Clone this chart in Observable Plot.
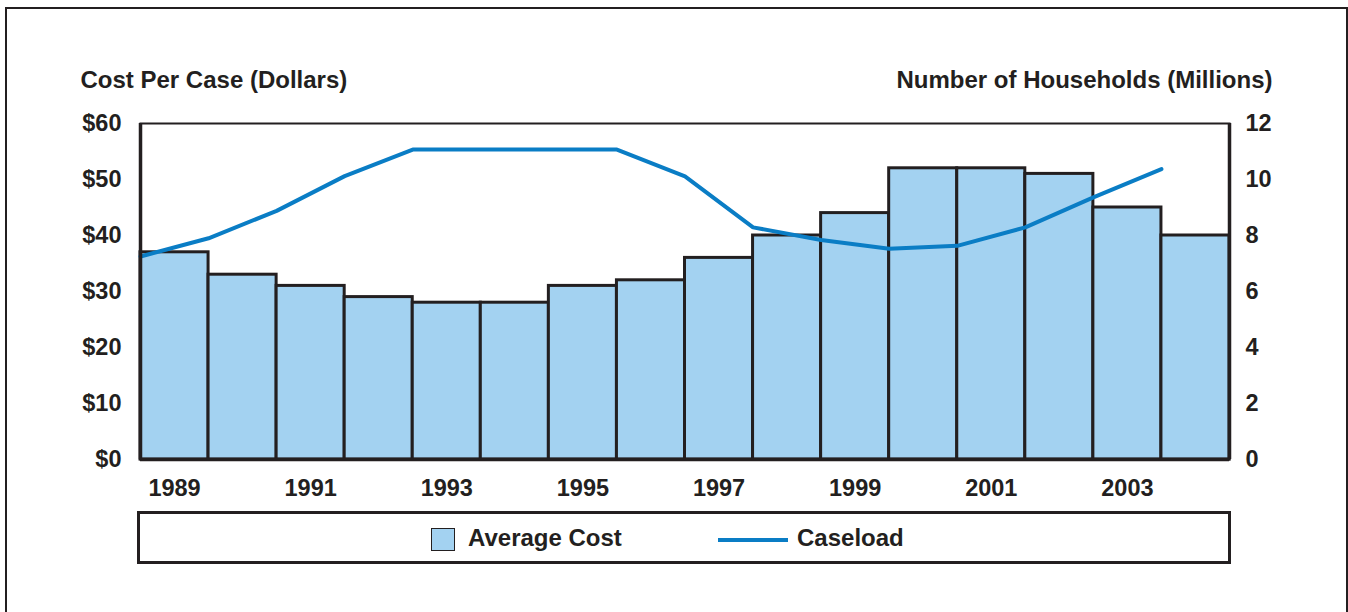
<!DOCTYPE html>
<html>
<head>
<meta charset="utf-8">
<script src="https://cdn.jsdelivr.net/npm/d3@7"></script>
<script src="https://cdn.jsdelivr.net/npm/@observablehq/plot@0.6"></script>
<style>
  html, body { margin: 0; padding: 0; background: #fff; }
  body { width: 1348px; height: 612px; position: relative; overflow: hidden;
         font-family: "Liberation Sans", Arial, sans-serif; font-weight: bold; color: #231f20; }
  #frame { position: absolute; left: 5px; top: 7px; width: 1343px; height: 640px;
           border: 2.5px solid #231f20; box-sizing: border-box; }
  #chart { position: absolute; left: 0; top: 0; }
  #legend { position: absolute; left: 137px; top: 511px; width: 1094px; height: 53px;
            border: 3px solid #231f20; box-sizing: border-box; background: #fff; }
  .sw { position: absolute; left: 291px; top: 14px; width: 24px; height: 23px;
        background: #a3d2f1; border: 1.5px solid #231f20; box-sizing: border-box; }
  .ln { position: absolute; left: 578px; top: 24px; width: 70px; height: 4px; background: #0a7dc5; }
  .lt { position: absolute; top: 11px; font-size: 24px; line-height: 26px; }
</style>
</head>
<body>
<div id="frame"></div>
<div id="chart"></div>
<div id="legend">
  <div class="sw"></div><div class="lt" style="left:328px">Average Cost</div>
  <div class="ln"></div><div class="lt" style="left:657px">Caseload</div>
</div>
<script>
const years = [1989,1990,1991,1992,1993,1994,1995,1996,1997,1998,1999,2000,2001,2002,2003,2004];
const averageCost = [37,33,31,29,28,28,31,32,36,40,44,52,52,51,45,40];
const caseload = [7.25,7.9,8.88,10.12,11.07,11.07,11.07,11.07,10.11,8.29,7.84,7.53,7.63,8.29,9.36,10.37];
const yearLabels = [1989,1991,1993,1995,1997,1999,2001,2003];
const costTicks = [0,10,20,30,40,50,60];
const caseTicks = [0,2,4,6,8,10,12];
const leftTitle = "Cost Per Case (Dollars)";
const rightTitle = "Number of Households (Millions)";

const ratio = 60 / 12; // caseload axis 0–12 maps onto cost axis 0–60
const data = years.map((y, i) => ({year: y, cost: averageCost[i], caseload: caseload[i]}));
const ink = "#231f20";

const chart = Plot.plot({
  width: 1348,
  height: 612,
  marginLeft: 140,
  marginRight: 119,
  marginTop: 123,
  marginBottom: 153,
  style: {fontFamily: "'Liberation Sans', Arial, sans-serif", fontSize: "23.5px", fontWeight: "bold", color: ink, background: "transparent"},
  x: {domain: [1989, 2005], axis: null},
  y: {domain: [0, 60], axis: null},
  marks: [
    Plot.rectY(data, {x1: "year", x2: d => d.year + 1, y: "cost", fill: "#a3d2f1", stroke: ink, strokeWidth: 3}),
    Plot.line(data, {x: "year", y: d => d.caseload * ratio, stroke: "#0a7dc5", strokeWidth: 4, strokeLinejoin: "miter"}),
    Plot.frame({stroke: ink, strokeWidth: 2}),
    Plot.ruleX([1989], {stroke: ink, strokeWidth: 3.5}),
    Plot.ruleX([2005], {stroke: ink, strokeWidth: 3.5}),
    Plot.ruleY([0], {stroke: ink, strokeWidth: 3.5}),
    Plot.axisY({anchor: "left", ticks: costTicks, tickSize: 0, tickPadding: 19, tickFormat: d => "$" + d, label: null, fill: ink}),
    Plot.axisY({anchor: "right", ticks: caseTicks.map(v => v * ratio), tickSize: 0, tickPadding: 16, tickFormat: d => String(d / ratio), label: null, textAnchor: "start", fill: ink}),
    Plot.axisX({anchor: "bottom", ticks: yearLabels.map(y => y + 0.5), tickSize: 0, tickPadding: 20, tickFormat: d => String(d - 0.5), label: null, fill: ink}),
    Plot.text([leftTitle], {frameAnchor: "top-left", dx: -60, dy: -36, textAnchor: "start", lineAnchor: "bottom", fill: ink, fontSize: 24}),
    Plot.text([rightTitle], {frameAnchor: "top-right", dx: 43, dy: -36, textAnchor: "end", lineAnchor: "bottom", fill: ink, fontSize: 24})
  ]
});
document.getElementById("chart").appendChild(chart);
</script>
</body>
</html>
